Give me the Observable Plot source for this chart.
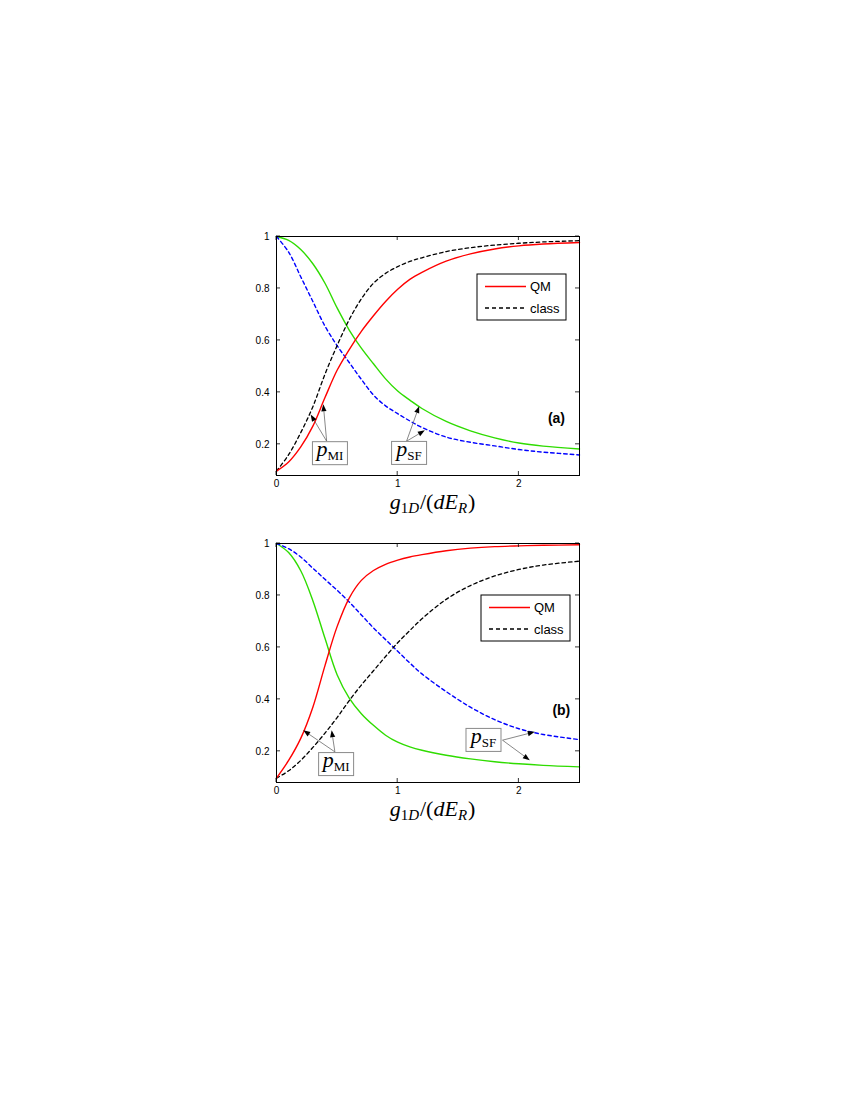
<!DOCTYPE html>
<html><head><meta charset="utf-8">
<script src="https://cdn.jsdelivr.net/npm/d3@7"></script>
<script src="https://cdn.jsdelivr.net/npm/@observablehq/plot@0.6"></script>
<style>
body{margin:0;background:#fff;}
#wrap{position:relative;width:850px;height:1100px;background:#fff;}
.panel{position:absolute;left:236px;}
</style></head>
<body><div id="wrap"><div id="pa" class="panel" style="top:226px"></div><div id="pb" class="panel" style="top:533px"></div></div>
<script>
// ---- data ----
const xs = [0,0.1,0.2,0.3,0.4,0.5,0.6,0.7,0.8,0.9,1.0,1.1,1.2,1.4,1.6,1.8,2.0,2.2,2.5];

// panel (a)
const aQM_MI  = [0.097,0.132,0.19,0.27,0.38,0.485,0.565,0.635,0.695,0.75,0.797,0.835,0.862,0.905,0.933,0.952,0.964,0.971,0.977];
const aCl_MI  = [0.097,0.16,0.245,0.345,0.47,0.58,0.68,0.76,0.82,0.858,0.884,0.904,0.918,0.942,0.957,0.967,0.974,0.979,0.984];
const aQM_SF  = [1.0,0.985,0.95,0.895,0.82,0.725,0.64,0.57,0.51,0.452,0.405,0.37,0.338,0.288,0.252,0.225,0.205,0.193,0.182];
const aCl_SF  = [1.0,0.94,0.845,0.75,0.655,0.58,0.515,0.45,0.39,0.348,0.318,0.29,0.265,0.228,0.208,0.194,0.18,0.17,0.159];

// panel (b)
const bQM_MI  = [0.097,0.165,0.25,0.37,0.53,0.68,0.79,0.858,0.896,0.92,0.936,0.948,0.957,0.972,0.982,0.988,0.991,0.993,0.995];
const bCl_MI  = [0.097,0.125,0.165,0.215,0.27,0.33,0.395,0.455,0.51,0.565,0.618,0.665,0.71,0.785,0.838,0.875,0.9,0.917,0.932];
const bQM_SF  = [1.0,0.965,0.895,0.78,0.635,0.495,0.405,0.345,0.3,0.262,0.235,0.217,0.204,0.185,0.171,0.16,0.152,0.146,0.14];
const bCl_SF  = [1.0,0.98,0.948,0.905,0.862,0.82,0.775,0.725,0.675,0.63,0.585,0.54,0.498,0.43,0.37,0.322,0.287,0.265,0.245];

const xTicks = [0,1,2];
const yTicks = [0.2,0.4,0.6,0.8,1];
const legendLabels = ["QM","class"];
const panelLabels = ["(a)","(b)"];

// annotation boxes (data coords) and arrows
const annoA = [{sub:"MI", x:0.445, y:0.164},{sub:"SF", x:1.098, y:0.165}];
const arrowsA = [
  {x1:0.418,y1:0.21,x2:0.286,y2:0.313},{x1:0.418,y1:0.21,x2:0.39,y2:0.352},
  {x1:1.077,y1:0.21,x2:1.181,y2:0.345},{x1:1.077,y1:0.21,x2:1.228,y2:0.252}];
const annoB = [{sub:"MI", x:0.496, y:0.149},{sub:"SF", x:1.712, y:0.242}];
const arrowsB = [
  {x1:0.486,y1:0.196,x2:0.225,y2:0.279},{x1:0.486,y1:0.196,x2:0.459,y2:0.279},
  {x1:1.869,y1:0.241,x2:2.135,y2:0.273},{x1:1.869,y1:0.241,x2:2.094,y2:0.164}];
const panelLabelPos = [{x:2.31,y:0.30},{x:2.35,y:0.358}];

const RED="#ff0000", GREEN="#2fdc00", BLUE="#0000ff", BLACK="#000000";
const SERIF="'Liberation Serif','DejaVu Serif',serif";
const SANS="'Liberation Sans',Arial,Helvetica,sans-serif";

function rows(arr){ return xs.map((x,i)=>({x, y:arr[i]})); }

function ticksMark(index, {x, y}, values, dim){
  const g = d3.create("svg:g").attr("stroke","black").attr("stroke-width",0.8);
  const L = dim.marginLeft, R = dim.width - dim.marginRight, T = dim.marginTop, B = dim.height - dim.marginBottom;
  for (const v of yTicks){ const p = y(v);
    g.append("line").attr("x1",L).attr("x2",L+4).attr("y1",p).attr("y2",p);
    g.append("line").attr("x1",R-4).attr("x2",R).attr("y1",p).attr("y2",p); }
  for (const v of xTicks){ const p = x(v);
    g.append("line").attr("x1",p).attr("x2",p).attr("y1",B).attr("y2",B-4);
    g.append("line").attr("x1",p).attr("x2",p).attr("y1",T).attr("y2",T+4); }
  return g.node();
}

function titleMark(index, scales, values, dim){
  const L = dim.marginLeft, R = dim.width - dim.marginRight, B = dim.height - dim.marginBottom;
  const t = d3.create("svg:text").attr("x",(L+R)/2+5).attr("y",B+34)
    .attr("text-anchor","middle").attr("font-family",SERIF).attr("font-size",22).attr("fill","black");
  t.append("tspan").attr("font-style","italic").text("g");
  t.append("tspan").attr("font-size",15).attr("dy",4).text("1");
  t.append("tspan").attr("font-size",15).attr("font-style","italic").text("D");
  t.append("tspan").attr("dy",-4).attr("dx",1).text("/(");
  t.append("tspan").attr("font-style","italic").text("dE");
  t.append("tspan").attr("font-size",15).attr("font-style","italic").attr("dy",4).text("R");
  t.append("tspan").attr("dy",-4).attr("dx",1).text(")");
  return t.node();
}

function legendMark(offX, offY){
  return (index, scales, values, dim) => {
    const bx = dim.marginLeft + offX, by = dim.marginTop + offY;
    const g = d3.create("svg:g");
    g.append("rect").attr("x",bx).attr("y",by).attr("width",89).attr("height",46)
      .attr("fill","white").attr("stroke","black").attr("stroke-width",1);
    const items = [{c:RED, dash:null, yy:12.5},{c:BLACK, dash:"4,3", yy:34}];
    items.forEach((it,i)=>{
      const l = g.append("line").attr("x1",bx+8).attr("x2",bx+49).attr("y1",by+it.yy).attr("y2",by+it.yy)
        .attr("stroke",it.c).attr("stroke-width",1.3);
      if (it.dash) l.attr("stroke-dasharray",it.dash);
      g.append("text").attr("x",bx+53).attr("y",by+it.yy).attr("dy","0.36em").attr("text-anchor","start")
        .attr("font-family",SANS).attr("font-size",13).attr("fill","black").text(legendLabels[i]);
    });
    return g.node();
  };
}

function annoMark(boxes, arrows){
  return (index, {x, y}) => {
    const g = d3.create("svg:g");
    for (const a of arrows){
      const X1=x(a.x1), Y1=y(a.y1), X2=x(a.x2), Y2=y(a.y2);
      const ang = Math.atan2(Y2-Y1, X2-X1), hl=7, hw=2.6;
      const bxp = X2 - hl*Math.cos(ang), byp = Y2 - hl*Math.sin(ang);
      g.append("line").attr("x1",X1).attr("y1",Y1).attr("x2",bxp).attr("y2",byp)
        .attr("stroke","#555").attr("stroke-width",0.7);
      const px = -Math.sin(ang)*hw, py = Math.cos(ang)*hw;
      g.append("path").attr("d",`M${X2},${Y2}L${bxp+px},${byp+py}L${bxp-px},${byp-py}Z`).attr("fill","black");
    }
    for (const b of boxes){
      const cx = x(b.x), cy = y(b.y);
      g.append("rect").attr("x",cx-17.5).attr("y",cy-11.5).attr("width",35).attr("height",23)
        .attr("fill","white").attr("stroke","#8a8a8a").attr("stroke-width",1);
      const t = g.append("text").attr("x",cx).attr("y",cy+3).attr("text-anchor","middle")
        .attr("font-family",SERIF).attr("font-size",22).attr("fill","black");
      t.append("tspan").attr("font-style","italic").text("p");
      t.append("tspan").attr("font-size",13).attr("dy",4).text(b.sub);
    }
    return g.node();
  };
}

function panel(d, anno, arrows, legOff, labIdx){
  const cv = "catmull-rom";
  return Plot.plot({
    width:360, height:290, marginLeft:40, marginRight:17, marginTop:10, marginBottom:41,
    x:{domain:[0,2.5]}, y:{domain:[0.08,1]},
    style:{fontFamily:SANS, fontSize:"10px", background:"white", color:"black", overflow:"visible"},
    marks:[
      Plot.line(rows(d.qmSF), {x:"x", y:"y", stroke:GREEN, strokeWidth:1.4, curve:cv}),
      Plot.line(rows(d.clSF), {x:"x", y:"y", stroke:BLUE, strokeWidth:1.4, strokeDasharray:"3.5,3", curve:cv}),
      Plot.line(rows(d.clMI), {x:"x", y:"y", stroke:BLACK, strokeWidth:1.3, strokeDasharray:"3.5,3", curve:cv}),
      Plot.line(rows(d.qmMI), {x:"x", y:"y", stroke:RED, strokeWidth:1.4, curve:cv}),
      annoMark(anno, arrows),
      Plot.text([panelLabelPos[labIdx]], {x:"x", y:"y", text:()=>panelLabels[labIdx], fontSize:14, fontWeight:"bold", fill:"black"}),
      legendMark(legOff[0], legOff[1]),
      Plot.frame({stroke:"black", strokeWidth:1}),
      ticksMark,
      Plot.axisX({ticks:xTicks, tickSize:0, tickPadding:4, label:null, tickFormat:d=>String(d)}),
      Plot.axisY({ticks:yTicks, tickSize:0, tickPadding:7, label:null, tickFormat:d=>String(d)}),
      titleMark
    ]
  });
}

document.getElementById("pa").append(panel({qmMI:aQM_MI, clMI:aCl_MI, qmSF:aQM_SF, clSF:aCl_SF}, annoA, arrowsA, [201,38], 0));
document.getElementById("pb").append(panel({qmMI:bQM_MI, clMI:bCl_MI, qmSF:bQM_SF, clSF:bCl_SF}, annoB, arrowsB, [205,52], 1));
</script>
</body></html>
